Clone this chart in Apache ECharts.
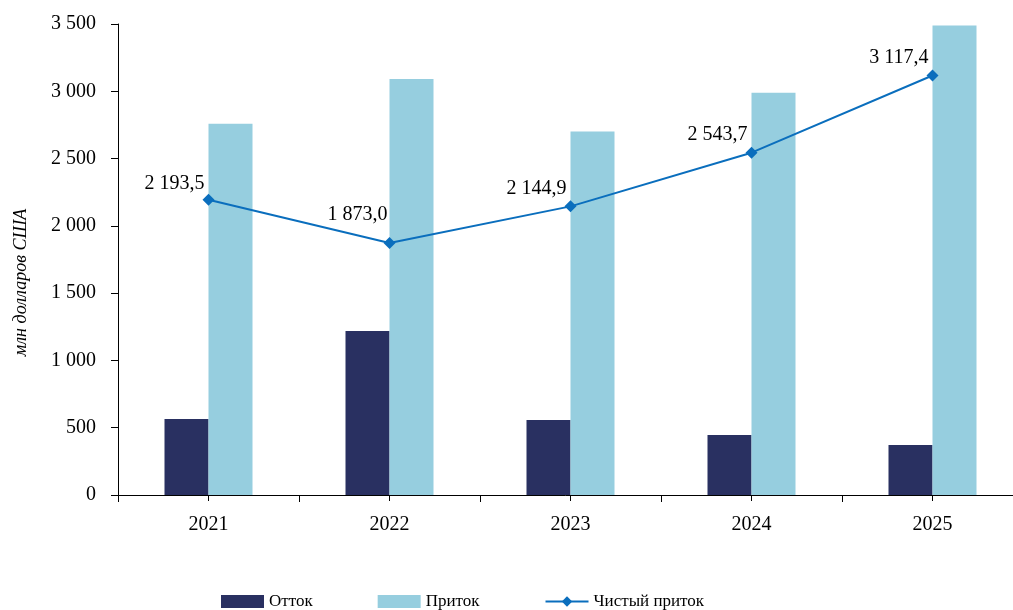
<!DOCTYPE html>
<html>
<head>
<meta charset="utf-8">
<script src="https://cdn.jsdelivr.net/npm/echarts@6/dist/echarts.min.js"></script>
<style>html,body{margin:0;padding:0;background:#fff}#c{width:1013px;height:610px}</style>
</head>
<body>
<div id="c"></div>
<script>
const categories = ['2021', '2022', '2023', '2024', '2025'];
const outflow = [565, 1219, 557, 446, 372];
const inflow = [2758.5, 3092.0, 2701.9, 2989.7, 3489.4];
const netInflow = [2193.5, 1873.0, 2144.9, 2543.7, 3117.4];
const yTicks = [0, 500, 1000, 1500, 2000, 2500, 3000, 3500];
const seriesNames = ['Отток', 'Приток', 'Чистый приток'];
const yAxisTitle = 'млн долларов США';

const FONT = '"Liberation Serif", "Times New Roman", serif';
function fmtNum(v, dec) {
  const s = v.toFixed(dec);
  const parts = s.split('.');
  const intPart = parts[0].replace(/\B(?=(\d{3})+(?!\d))/g, ' ');
  return parts.length > 1 ? intPart + ',' + parts[1] : intPart;
}
const labelOffsets = [[2, -16], [4, -28], [2, -18], [2, -18], [2, -18]];

const chart = echarts.init(document.getElementById('c'), null, {renderer: 'canvas'});
chart.setOption({
  animation: false,
  backgroundColor: '#ffffff',
  textStyle: {fontFamily: FONT},
  grid: {left: 118, top: 24, width: 905, height: 471, containLabel: false, outerBoundsMode: 'none'},
  legend: {
    left: 216, top: 588,
    itemWidth: 43, itemHeight: 13, itemGap: 65,
    textStyle: {fontFamily: FONT, fontSize: 17, color: '#000'},
    data: [
      {name: seriesNames[0], icon: 'rect'},
      {name: seriesNames[1], icon: 'rect'},
      {name: seriesNames[2]}
    ]
  },
  xAxis: [{
    type: 'category', data: categories, boundaryGap: true,
    axisLine: {lineStyle: {color: '#000', width: 1}},
    axisTick: {show: true, length: 7, lineStyle: {color: '#000'}},
    axisLabel: {fontFamily: FONT, fontSize: 20, color: '#000', margin: 20},
    splitLine: {show: false}
  }, {
    type: 'category', data: categories, position: 'bottom', boundaryGap: true,
    axisLine: {show: false},
    axisTick: {show: true, alignWithLabel: true, length: 6, lineStyle: {color: '#000'}},
    axisLabel: {show: false},
    splitLine: {show: false}
  }],
  yAxis: {
    type: 'value', min: yTicks[0], max: yTicks[yTicks.length - 1], interval: 500,
    name: yAxisTitle, nameLocation: 'middle', nameGap: 88,
    nameTextStyle: {fontFamily: FONT, fontSize: 18, fontStyle: 'italic', color: '#000', padding: [0, 46, 0, 0]},
    axisLine: {show: true, lineStyle: {color: '#000'}},
    axisTick: {show: true, length: 7, lineStyle: {color: '#000'}},
    axisLabel: {fontFamily: FONT, fontSize: 20, color: '#000', margin: 22,
      formatter: v => fmtNum(v, 0)},
    splitLine: {show: false}
  },
  series: [{
    name: seriesNames[0], type: 'bar', data: outflow,
    barWidth: 44, barGap: '0%',
    itemStyle: {color: '#293061'}
  }, {
    name: seriesNames[1], type: 'bar', data: inflow,
    barWidth: 44, barGap: '0%',
    itemStyle: {color: '#96CEDF'}
  }, {
    name: seriesNames[2], type: 'line',
    data: netInflow.map((v, i) => ({
      value: v,
      label: {offset: labelOffsets[i]}
    })),
    symbol: 'diamond', symbolSize: 12,
    lineStyle: {color: '#0A6EBD', width: 2},
    itemStyle: {color: '#0A6EBD'},
    label: {
      show: true, position: 'left', distance: 0,
      fontFamily: FONT, fontSize: 20, color: '#000',
      formatter: p => fmtNum(p.value, 1)
    },
    z: 5
  }]
});
</script>
</body>
</html>
